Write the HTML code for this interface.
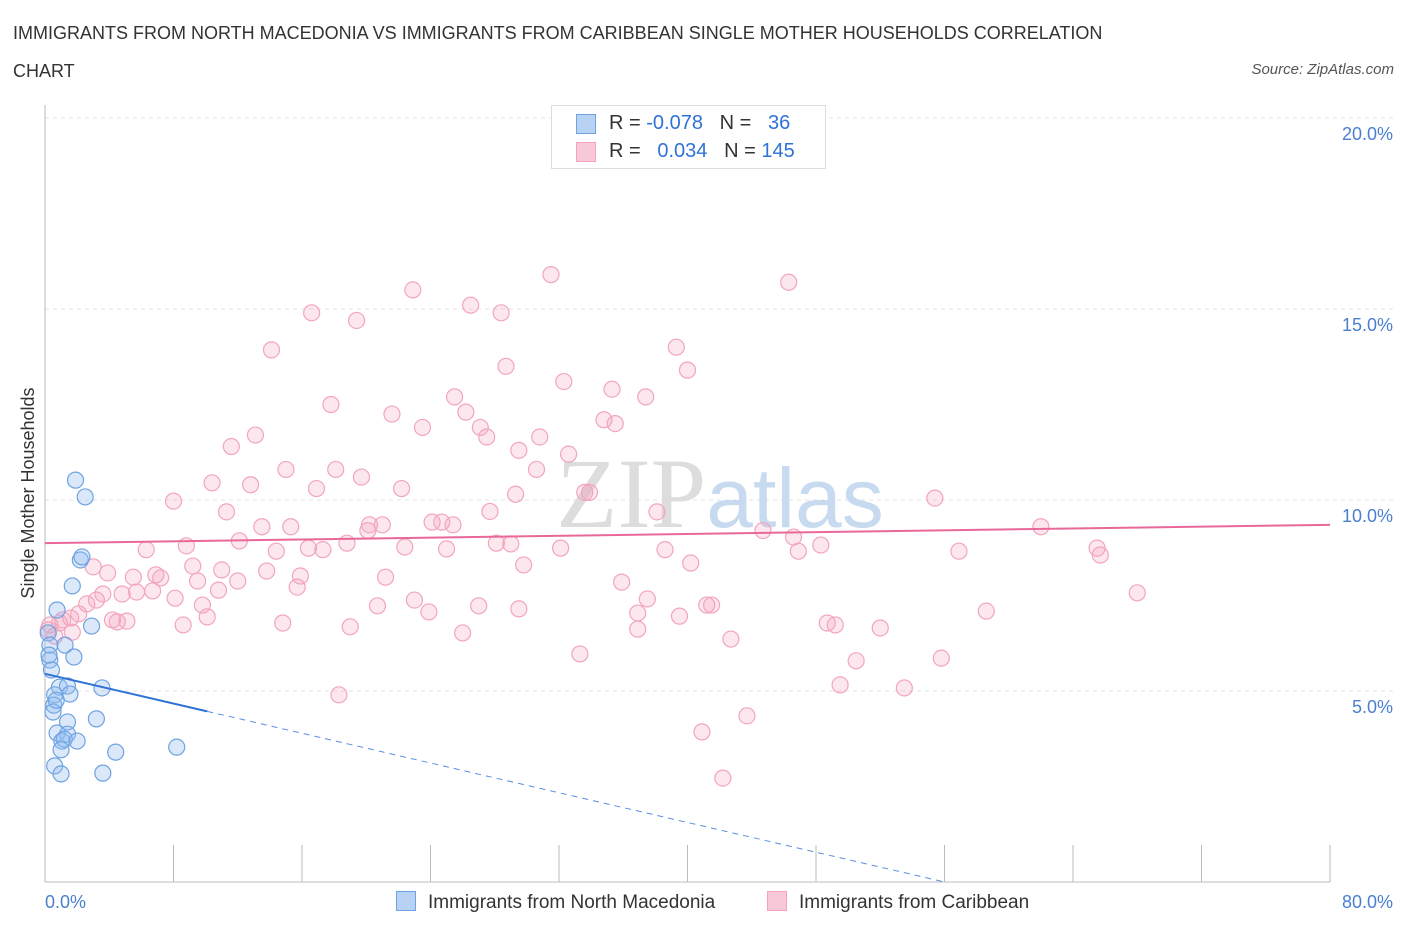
<!DOCTYPE html>
<html><head><meta charset="utf-8">
<style>
body{margin:0;background:#fff;font-family:"Liberation Sans",sans-serif;}
#wrap{position:relative;width:1406px;height:930px;overflow:hidden;}
.t{position:absolute;color:#333;}
</style></head>
<body>
<div id="wrap">
<div class="t" style="left:13px;top:14px;font-size:18px;line-height:38px;width:1150px;">IMMIGRANTS FROM NORTH MACEDONIA VS IMMIGRANTS FROM CARIBBEAN SINGLE MOTHER HOUSEHOLDS CORRELATION CHART</div>
<div class="t" style="right:12px;top:61px;font-size:15px;font-style:italic;color:#555;">Source: ZipAtlas.com</div>
<svg id="svg" width="1406" height="930" style="position:absolute;left:0;top:0"></svg>
</div>
<script>
const xTicksPct=[0,80];
const yTicks=[5,10,15,20];
const blueX=[1.9,2.5,2.2,2.3,1.7,0.75,2.9,0.2,1.25,0.3,1.8,0.3,0.4,0.9,1.4,1.55,3.55,0.6,0.55,0.5,1.4,3.2,0.75,1.4,1.05,1.2,2.0,1.0,4.4,8.2,0.6,1.0,3.6,0.25,0.7];
const blueY=[10.52,10.08,8.43,8.51,7.75,7.12,6.7,6.52,6.2,6.2,5.89,5.81,5.55,5.1,5.13,4.92,5.08,4.9,4.63,4.45,4.19,4.27,3.9,3.87,3.69,3.74,3.69,3.46,3.4,3.53,3.04,2.83,2.85,5.94,4.76];
const pinkX=[14.1,16.6,19.4,22.9,26.5,28.4,31.5,46.3,39.3,28.7,40.0,32.3,35.3,37.4,25.5,17.8,21.6,26.2,23.5,34.8,35.5,27.1,27.5,30.8,32.6,29.5,13.1,11.6,15.0,18.1,30.6,19.7,10.4,12.8,16.9,22.2,29.3,33.6,33.9,8.0,11.3,27.7,38.1,55.4,62.0,13.5,15.3,24.1,24.7,25.4,20.2,21.0,20.1,12.1,18.8,8.8,6.3,14.4,16.4,17.3,22.4,25.0,28.1,29.0,32.1,38.6,44.7,46.6,46.9,48.3,56.9,65.5,65.7,3.0,3.9,5.5,6.9,7.2,9.2,11.0,13.8,15.9,21.2,29.8,40.2,9.5,12.0,15.7,35.9,68.0,2.6,3.2,3.6,4.8,5.7,6.7,8.1,9.8,10.8,20.7,23.0,23.9,27.0,29.5,37.5,36.9,41.2,41.5,58.6,1.1,1.6,2.1,4.2,4.5,5.1,8.6,10.1,14.8,19.0,1.7,26.0,36.9,39.5,48.7,49.2,52.0,42.7,33.3,55.8,50.5,49.5,53.5,18.3,43.7,40.9,42.2,0.3,0.6,0.2,0.9];
const pinkY=[13.93,14.9,14.7,15.5,15.1,14.9,15.9,15.7,14.0,13.5,13.4,13.1,12.9,12.7,12.7,12.5,12.25,12.3,11.9,12.1,12.0,11.9,11.65,11.65,11.2,11.3,11.7,11.4,10.8,10.8,10.8,10.6,10.45,10.4,10.3,10.3,10.15,10.2,10.2,9.97,9.69,9.7,9.69,10.05,9.3,9.3,9.3,9.42,9.42,9.35,9.35,9.35,9.2,8.93,8.87,8.8,8.7,8.66,8.74,8.7,8.77,8.72,8.87,8.85,8.74,8.7,9.2,9.03,8.66,8.82,8.66,8.74,8.56,8.25,8.09,7.98,8.04,7.96,8.27,8.17,8.14,8.01,7.98,8.3,8.35,7.88,7.88,7.72,7.85,7.57,7.28,7.38,7.54,7.54,7.59,7.62,7.43,7.25,7.64,7.23,7.38,7.07,7.23,7.15,7.41,7.04,7.25,7.25,7.09,6.86,6.91,7.02,6.86,6.81,6.83,6.73,6.94,6.78,6.68,6.54,6.52,6.62,6.96,6.78,6.73,6.65,6.36,5.97,5.86,5.79,5.16,5.08,4.9,4.35,3.93,2.72,6.73,6.44,6.6,6.78];
const blueTrend=[5.45,-0.0973];
const pinkTrend=[8.87,0.006];
const svg=document.getElementById('svg');
const NS='http://www.w3.org/2000/svg';
const X0=45,X1=1330,Y0=882;
const sx=v=>X0+(v/80)*(X1-X0);
const sy=v=>Y0-v*38.2;
function mk(tag,attrs,parent){const e=document.createElementNS(NS,tag);for(const k in attrs)e.setAttribute(k,attrs[k]);(parent||svg).appendChild(e);return e;}
yTicks.forEach(v=>{
 const g=mk('line',{x1:X0,x2:1395,y1:sy(v),y2:sy(v),stroke:'#e3e3e3','stroke-dasharray':'4,4'});
 
 
 const t=mk('text',{x:1393,y:sy(v)+22,'text-anchor':'end','font-size':18,fill:'#4a7fd0'});
 t.textContent=v.toFixed(1)+'%';
 
 
});
const ax=mk('line',{x1:X0,x2:X0,y1:105,y2:Y0,stroke:'#bbb'});


const bx=mk('line',{x1:X0,x2:X1,y1:Y0,y2:Y0,stroke:'#bbb'});


for(let i=0;i<=10;i++){const tk=mk('line',{x1:sx(i*8),x2:sx(i*8),y1:845,y2:Y0,stroke:'#bbb'});
 
 }
xTicksPct.forEach((v,i)=>{const t=mk('text',{x:i?1393:45,y:908,'text-anchor':i?'end':'start','font-size':18,fill:'#4a7fd0'});
 t.textContent=v.toFixed(1)+'%';
 
 });
const yl=mk('text',{x:34,y:493,'text-anchor':'middle','font-size':18,fill:'#333',transform:'rotate(-90 34 493)'});
yl.textContent='Single Mother Households';


const wm=mk('text',{x:720,y:527,'text-anchor':'middle','font-size':100,'font-family':'Liberation Serif',fill:'#ddd'});
wm.innerHTML='ZIP<tspan font-family="Liberation Sans" font-size="84" fill="#c8daf0">atlas</tspan>';


pinkX.forEach((x,i)=>{const c=mk('circle',{cx:sx(x),cy:sy(pinkY[i]),r:8,fill:'rgba(244,160,188,0.25)',stroke:'#f2a5bd','stroke-width':1.2});
 
 });
blueX.forEach((x,i)=>{const c=mk('circle',{cx:sx(x),cy:sy(blueY[i]),r:8,fill:'rgba(150,190,240,0.35)',stroke:'#6fa3e0','stroke-width':1.2});
 
 });
const pt=mk('line',{x1:sx(0),y1:sy(pinkTrend[0]),x2:sx(80),y2:sy(pinkTrend[0]+pinkTrend[1]*80),stroke:'#e8689a','stroke-width':2});


const bEnd=-blueTrend[0]/blueTrend[1];
const bt=mk('line',{x1:sx(0),y1:sy(blueTrend[0]),x2:sx(10.1),y2:sy(blueTrend[0]+blueTrend[1]*10.1),stroke:'#2f72d6','stroke-width':2});


const bd=mk('line',{x1:sx(10.1),y1:sy(blueTrend[0]+blueTrend[1]*10.1),x2:sx(bEnd),y2:sy(0),stroke:'#5a90e0','stroke-width':1,'stroke-dasharray':'6,5'});


</script>
<div style="position:absolute;left:551px;top:105px;width:273px;height:62px;border:1px solid #ddd;background:#fff;font-size:20px;color:#333;">
 <div style="position:absolute;left:24px;top:8px;width:18px;height:18px;background:#b8d2f4;border:1px solid #6fa3e0;"></div>
 <div style="position:absolute;left:57px;top:6px;">R = <span style="color:#2f72d6">-0.078</span>&nbsp;&nbsp;&nbsp;N = &nbsp;&nbsp;<span style="color:#2f72d6">36</span></div>
 <div style="position:absolute;left:24px;top:36px;width:18px;height:18px;background:#f8c8d8;border:1px solid #f2a5bd;"></div>
 <div style="position:absolute;left:57px;top:34px;">R = &nbsp;&nbsp;<span style="color:#2f72d6">0.034</span>&nbsp;&nbsp;&nbsp;N = <span style="color:#2f72d6">145</span></div>
</div>
<div style="position:absolute;left:396px;top:891px;font-size:19px;color:#333;">
 <span style="display:inline-block;width:18px;height:18px;background:#b8d2f4;border:1px solid #6fa3e0;vertical-align:-3px;margin-right:12px;"></span>Immigrants from North Macedonia</div>
<div style="position:absolute;left:767px;top:891px;font-size:19px;color:#333;">
 <span style="display:inline-block;width:18px;height:18px;background:#f8c8d8;border:1px solid #f2a5bd;vertical-align:-3px;margin-right:12px;"></span>Immigrants from Caribbean</div>
</body></html>
